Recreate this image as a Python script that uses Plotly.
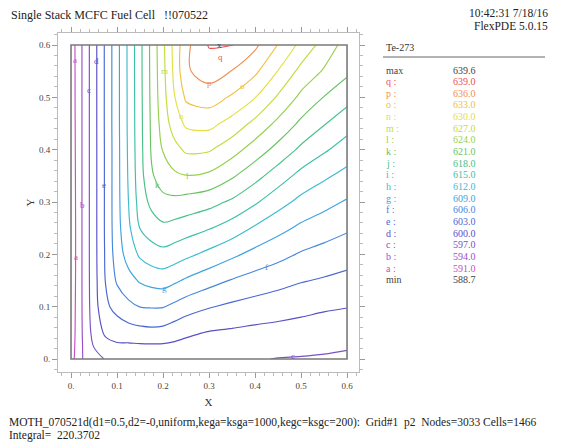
import plotly.graph_objects as go

# Grid coordinates (m)
x_grid = [0, 0.02, 0.05, 0.075, 0.1, 0.125, 0.15, 0.175, 0.2, 0.225, 0.25, 0.3, 0.35, 0.4, 0.45, 0.5, 0.55, 0.6]
y_grid = [0, 0.025, 0.05, 0.1, 0.15, 0.2, 0.25, 0.3, 0.35, 0.4, 0.45, 0.5, 0.55, 0.6]

# Te-273 on the grid, one list per x column (bottom to top)
te_columns = [
    [589.6, 589.4, 589.2, 589.0, 588.8, 588.7, 588.7, 588.8, 588.9, 589.0, 589.1, 589.2, 589.2, 589.3],
    [593.6, 593.35, 593.3, 593.3, 593.3, 593.3, 593.3, 593.3, 593.3, 593.3, 593.3, 593.3, 593.3, 593.3],
    [595.8, 597.2, 598.1, 598.7, 598.85, 598.9, 598.9, 598.9, 598.9, 598.9, 598.9, 598.9, 598.9, 598.9],
    [597.2, 598.9, 600.5, 602.4, 603.1, 603.35, 603.45, 603.45, 603.45, 603.45, 603.5, 603.5, 603.5, 603.5],
    [597.4, 599.6, 601.1, 604.0, 606.4, 607.5, 607.9, 608.0, 608.0, 608.0, 608.05, 608.05, 608.05, 608.05],
    [598.0, 599.5, 601.6, 605.3, 608.0, 610.2, 611.4, 612.0, 612.3, 612.45, 612.55, 612.55, 612.6, 612.6],
    [598.4, 599.6, 601.9, 606.05, 609.3, 612.5, 615.05, 616.3, 616.8, 617.0, 617.1, 617.15, 617.2, 617.2],
    [598.55, 599.6, 602.1, 606.2, 610.0, 613.6, 616.45, 618.8, 620.7, 621.3, 621.5, 621.65, 621.75, 621.8],
    [598.6, 599.6, 601.9, 606.15, 610.3, 614.1, 617.3, 620.3, 622.2, 624.2, 625.3, 625.9, 626.2, 626.4],
    [598.5, 599.4, 601.2, 605.3, 609.5, 613.5, 616.9, 620.2, 623.5, 626.0, 628.5, 629.9, 630.7, 631.0],
    [598.4, 599.2, 600.5, 604.4, 608.6, 612.7, 616.4, 619.8, 623.9, 627.5, 630.5, 633.5, 635.6, 635.2],
    [598.0, 598.8, 599.8, 603.2, 607.1, 611.2, 615.2, 619.0, 623.4, 627.3, 630.9, 634.4, 637.4, 639.2],
    [597.7, 598.5, 599.5, 602.4, 605.8, 609.6, 613.6, 617.5, 621.4, 625.2, 628.9, 632.6, 635.9, 639.1],
    [597.2, 598.2, 599.2, 601.8, 604.8, 608.1, 611.6, 615.4, 619.0, 622.6, 626.2, 630.1, 633.6, 636.6],
    [596.9, 598.0, 599.0, 601.3, 604.0, 606.9, 609.9, 613.1, 616.5, 620.0, 623.3, 626.6, 629.9, 632.9],
    [596.8, 597.8, 598.8, 600.8, 603.2, 605.7, 608.4, 611.2, 614.1, 617.4, 620.4, 623.3, 626.1, 629.2],
    [596.7, 597.5, 598.4, 600.4, 602.7, 604.9, 607.4, 609.9, 612.5, 615.4, 618.2, 620.9, 623.7, 625.8],
    [596.6, 597.2, 598.1, 600.1, 602.2, 604.2, 606.4, 608.7, 611.1, 613.6, 616.2, 619.0, 621.6, 622.8],
]

# Contour levels
level_letters = ["a", "b", "c", "d", "e", "f", "g", "h", "i", "j", "k", "l", "m", "n", "o", "p", "q"]
level_values = [591.0, 594.0, 597.0, 600.0, 603.0, 606.0, 609.0, 612.0, 615.0, 618.0,
                621.0, 624.0, 627.0, 630.0, 633.0, 636.0, 639.0]
level_colors = ["#c850c0", "#9a50c8", "#7a50cc", "#5a50c8", "#4a68d4", "#4888dc", "#40a4e0",
                "#3cbcd0", "#3cc0a8", "#48c088", "#68c460", "#98d050", "#c4dc40", "#e4e040",
                "#f0c040", "#f09050", "#ec5050"]
te_max = 639.6
te_min = 588.7

# Contour label positions
label_x = [0.056, 0.040, 0.204, 0.302, 0.372, 0.240, 0.072, 0.187, 0.254, 0.024, 0.010, 0.204, 0.426, 0.483, 0.325, 0.009]
label_y = [0.570, 0.514, 0.550, 0.527, 0.522, 0.465, 0.333, 0.333, 0.350, 0.294, 0.195, 0.135, 0.175, 0.006, 0.578, 0.572]
label_text = ["d", "c", "m", "p", "o", "n", "e", "k", "l", "b", "a", "g", "f", "c", "q", "a"]
max_x, max_y = 0.322, 0.600

z_rows = [[col[j] for col in te_columns] for j in range(len(y_grid))]

n_lev = len(level_values)
colorscale = [[i / (n_lev - 1), c] for i, c in enumerate(level_colors)]

fig = go.Figure()
fig.add_trace(go.Contour(
    x=x_grid, y=y_grid, z=z_rows,
    contours=dict(coloring="lines", start=level_values[0], end=level_values[-1],
                  size=level_values[1] - level_values[0], showlabels=False),
    colorscale=colorscale, zmin=level_values[0], zmax=level_values[-1],
    showscale=False, line=dict(width=1.15, smoothing=1.0),
    hoverinfo="skip",
))

# Domain boundary
fig.add_shape(type="rect", x0=x_grid[0], x1=x_grid[-1], y0=y_grid[0], y1=y_grid[-1],
              line=dict(color="#7a7a7a", width=1.6), layer="above")

serif = "Liberation Serif"
color_of = dict(zip(level_letters, level_colors))
annotations = []
for lx, ly, lt in zip(label_x, label_y, label_text):
    annotations.append(dict(x=lx, y=ly, xref="x", yref="y", text=lt, showarrow=False,
                            font=dict(family=serif, size=9, color=color_of[lt])))
annotations.append(dict(x=max_x, y=max_y, xref="x", yref="y", text="x", showarrow=False,
                        font=dict(family=serif, size=9, color="#444")))

# Page layout (pixels)
W, H = 561, 445
ml, mr, mt, mb = 58, 202, 33, 73
pw, ph = W - ml - mr, H - mt - mb


def px(xp):
    return (xp - ml) / pw


def py(yp):
    return 1 - (yp - mt) / ph


def text_at(xp, yp, s, size=12, color="#222", anchor="left"):
    annotations.append(dict(x=px(xp), y=py(yp), xref="paper", yref="paper", text=s,
                            showarrow=False, xanchor=anchor, yanchor="middle", borderpad=0,
                            font=dict(family=serif, size=size, color=color)))


nb = "\u00a0"
text_at(10, 15, "Single Stack MCFC Fuel Cell" + nb * 3 + "!!070522", size=12)
text_at(549, 13, "10:42:31 7/18/16", size=11.5, anchor="right")
text_at(549, 26, "FlexPDE 5.0.15", size=11.5, anchor="right")

# Legend panel
text_at(385, 48, "Te-273", size=10, color="#333")
rows = [("max", f"{te_max:.1f}", "#444")]
for letter, val, col in reversed(list(zip(level_letters, level_values, level_colors))):
    rows.append((letter + " :", f"{val:.1f}", col))
rows.append(("min", f"{te_min:.1f}", "#444"))
row_y0, row_dy = 70, 11.65
for k, (name, val, col) in enumerate(rows):
    yy = row_y0 + k * row_dy
    text_at(385, yy, name, size=10, color=col)
    text_at(452, yy, val, size=10, color=col)
fig.add_shape(type="line", xref="paper", yref="paper", x0=px(383), x1=px(545),
              y0=py(57), y1=py(57), line=dict(color="#666", width=1))

text_at(8, 422, "MOTH_070521d(d1=0.5,d2=-0,uniform,kega=ksga=1000,kegc=ksgc=200):" + nb * 2 +
        "Grid#1" + nb * 2 + "p2" + nb * 2 + "Nodes=3033 Cells=1466", size=11.5)
text_at(8, 435, "Integral=" + nb * 2 + "220.3702", size=11.5)

tick_vals = [0, 0.1, 0.2, 0.3, 0.4, 0.5, 0.6]
tick_text = ["0.", "0.1", "0.2", "0.3", "0.4", "0.5", "0.6"]
axis_common = dict(
    tickvals=tick_vals, ticktext=tick_text, ticks="outside", ticklen=5, tickcolor="#999",
    showline=True, linecolor="#bbb", linewidth=1, mirror="allticks", showgrid=False,
    zeroline=False, tickfont=dict(family=serif, size=9, color="#444"),
    minor=dict(dtick=0.02, ticks="outside", ticklen=3, tickcolor="#bbb"),
)
fig.update_layout(
    width=W, height=H, margin=dict(l=ml, r=mr, t=mt, b=mb),
    paper_bgcolor="white", plot_bgcolor="white",
    xaxis=dict(range=[-0.0283, 0.626], title=dict(text="X", font=dict(family=serif, size=11, color="#333"),
                                                 standoff=8), **axis_common),
    yaxis=dict(range=[-0.0248, 0.623], title=dict(text="Y", font=dict(family=serif, size=11, color="#333"),
                                                 standoff=2), **axis_common),
    annotations=annotations, showlegend=False,
)

fig.write_html("out.html")
